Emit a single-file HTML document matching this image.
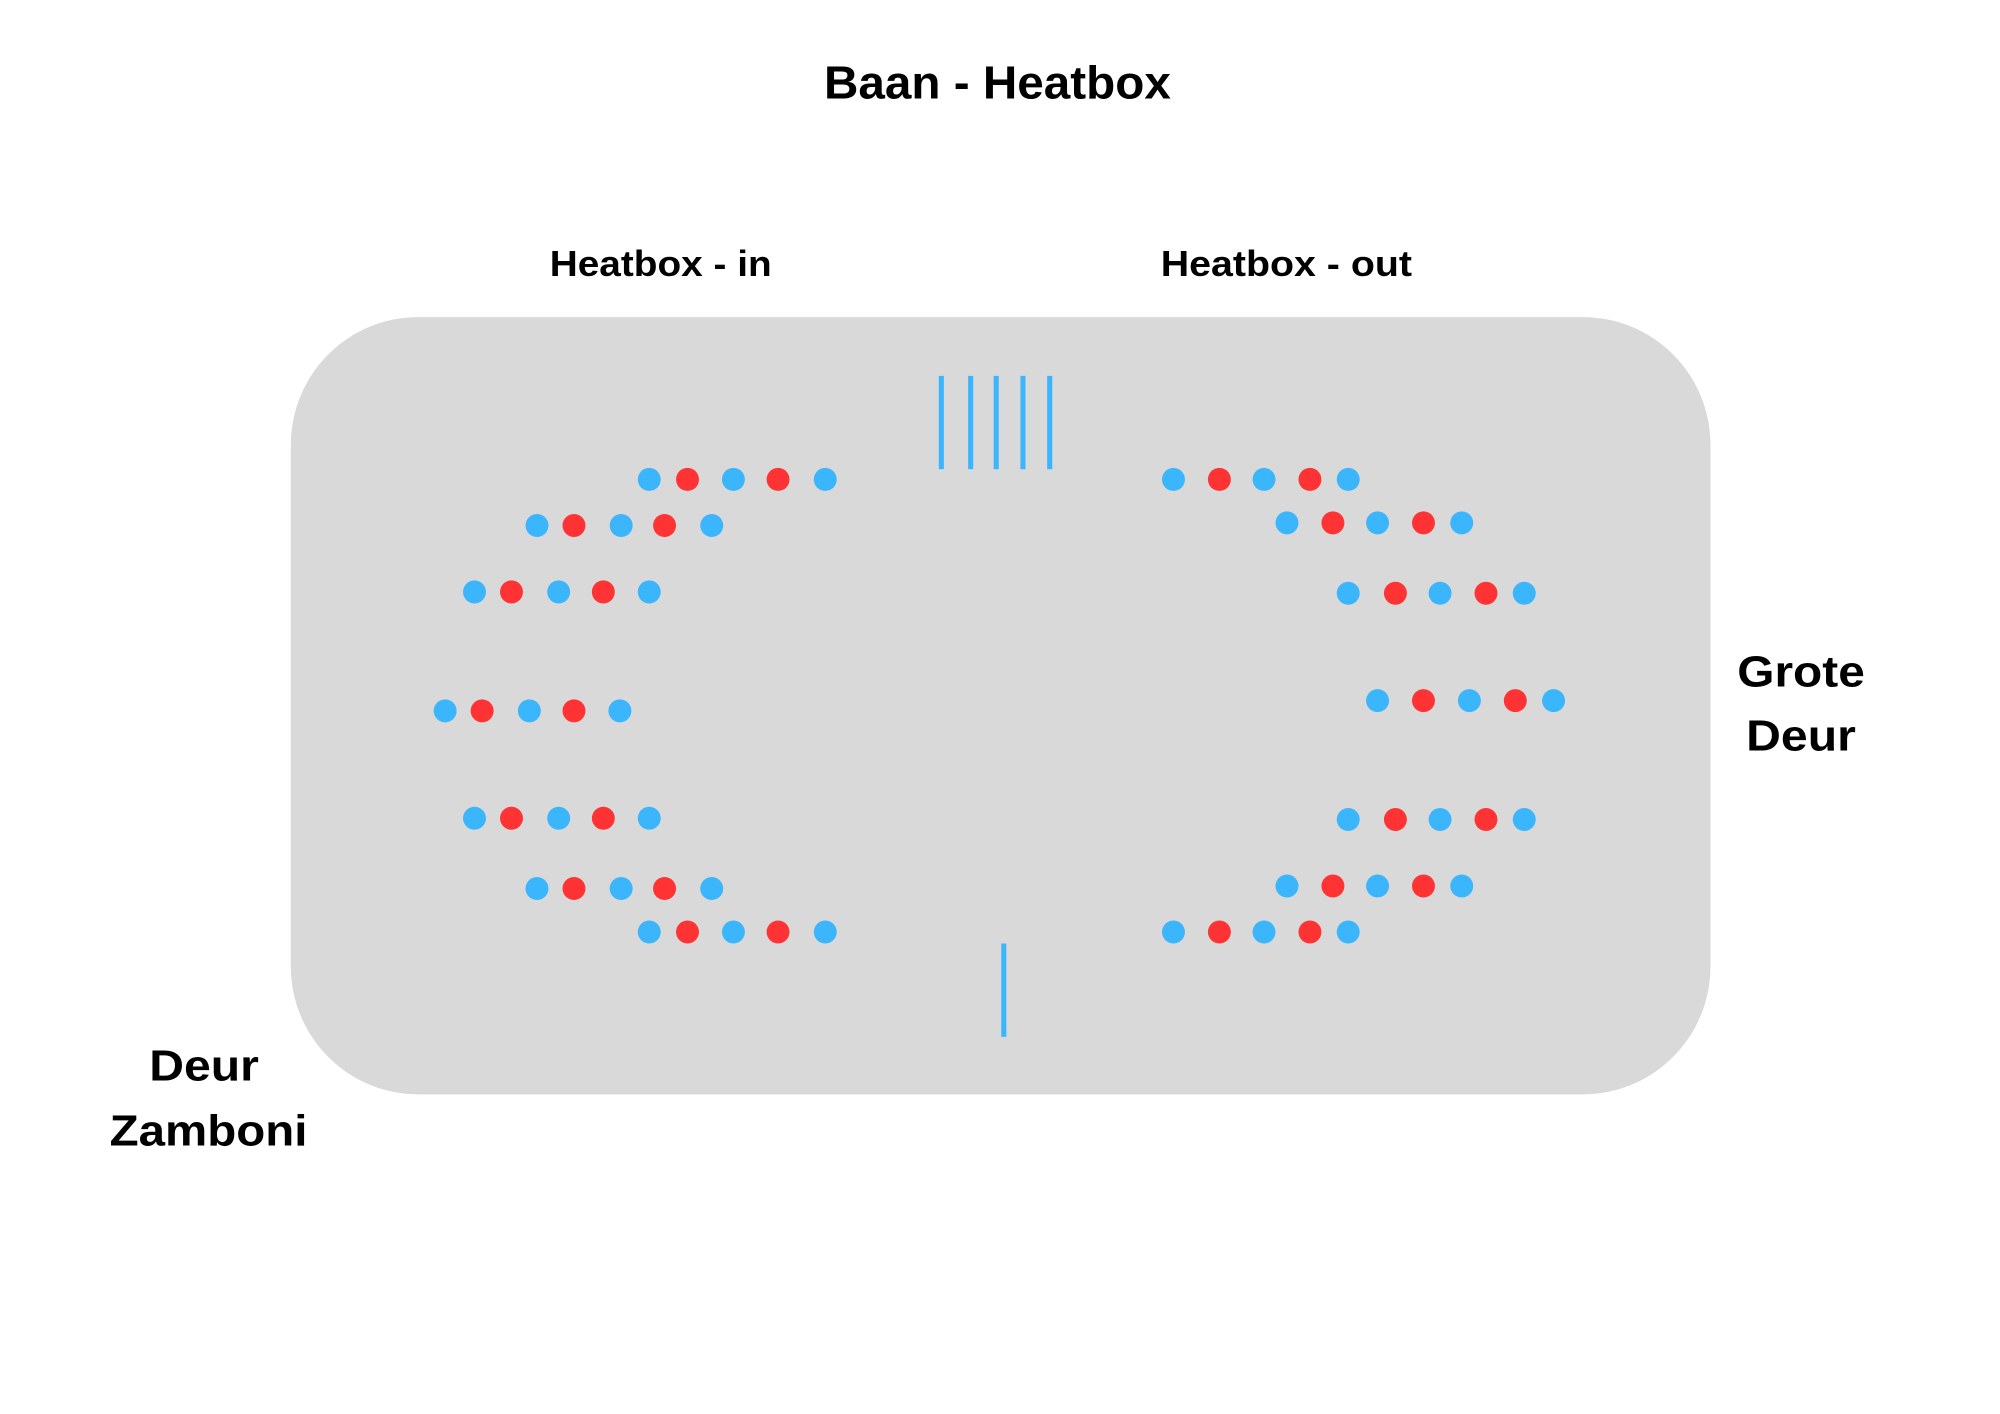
<!DOCTYPE html>
<html><head><meta charset="utf-8"><style>html,body{margin:0;padding:0;background:#fff}svg{display:block}</style></head>
<body>
<svg width="2000" height="1414" viewBox="0 0 1568 1106" preserveAspectRatio="none" xmlns="http://www.w3.org/2000/svg" font-family="Liberation Sans, sans-serif" font-weight="bold" fill="#000">
<rect x="228" y="248" width="1113" height="608" rx="100" ry="100" fill="#d9d9d9"/>
<g fill="#3bb6fd">
<rect x="736" y="294" width="4" height="73"/><rect x="759" y="294" width="4" height="73"/><rect x="779" y="294" width="4" height="73"/><rect x="800" y="294" width="4" height="73"/><rect x="821" y="294" width="4" height="73"/>
<rect x="785" y="738" width="4" height="73"/>
</g>
<text x="646" y="77" font-size="36" textLength="272" lengthAdjust="spacingAndGlyphs">Baan - Heatbox</text>
<text x="431" y="216" font-size="28" textLength="174" lengthAdjust="spacingAndGlyphs">Heatbox - in</text>
<text x="910" y="216" font-size="28" textLength="197" lengthAdjust="spacingAndGlyphs">Heatbox - out</text>
<text x="1362" y="537" font-size="34" textLength="100" lengthAdjust="spacingAndGlyphs">Grote</text>
<text x="1369" y="587" font-size="34" textLength="86" lengthAdjust="spacingAndGlyphs">Deur</text>
<text x="117" y="845" font-size="34" textLength="86" lengthAdjust="spacingAndGlyphs">Deur</text>
<text x="86" y="896" font-size="34" textLength="155" lengthAdjust="spacingAndGlyphs">Zamboni</text>
<g>
<circle cx="509" cy="375" r="9" fill="#3bb6fd"/><circle cx="539" cy="375" r="9" fill="#ff3333"/><circle cx="575" cy="375" r="9" fill="#3bb6fd"/><circle cx="610" cy="375" r="9" fill="#ff3333"/><circle cx="647" cy="375" r="9" fill="#3bb6fd"/>
<circle cx="421" cy="411" r="9" fill="#3bb6fd"/><circle cx="450" cy="411" r="9" fill="#ff3333"/><circle cx="487" cy="411" r="9" fill="#3bb6fd"/><circle cx="521" cy="411" r="9" fill="#ff3333"/><circle cx="558" cy="411" r="9" fill="#3bb6fd"/>
<circle cx="372" cy="463" r="9" fill="#3bb6fd"/><circle cx="401" cy="463" r="9" fill="#ff3333"/><circle cx="438" cy="463" r="9" fill="#3bb6fd"/><circle cx="473" cy="463" r="9" fill="#ff3333"/><circle cx="509" cy="463" r="9" fill="#3bb6fd"/>
<circle cx="349" cy="556" r="9" fill="#3bb6fd"/><circle cx="378" cy="556" r="9" fill="#ff3333"/><circle cx="415" cy="556" r="9" fill="#3bb6fd"/><circle cx="450" cy="556" r="9" fill="#ff3333"/><circle cx="486" cy="556" r="9" fill="#3bb6fd"/>
<circle cx="372" cy="640" r="9" fill="#3bb6fd"/><circle cx="401" cy="640" r="9" fill="#ff3333"/><circle cx="438" cy="640" r="9" fill="#3bb6fd"/><circle cx="473" cy="640" r="9" fill="#ff3333"/><circle cx="509" cy="640" r="9" fill="#3bb6fd"/>
<circle cx="421" cy="695" r="9" fill="#3bb6fd"/><circle cx="450" cy="695" r="9" fill="#ff3333"/><circle cx="487" cy="695" r="9" fill="#3bb6fd"/><circle cx="521" cy="695" r="9" fill="#ff3333"/><circle cx="558" cy="695" r="9" fill="#3bb6fd"/>
<circle cx="509" cy="729" r="9" fill="#3bb6fd"/><circle cx="539" cy="729" r="9" fill="#ff3333"/><circle cx="575" cy="729" r="9" fill="#3bb6fd"/><circle cx="610" cy="729" r="9" fill="#ff3333"/><circle cx="647" cy="729" r="9" fill="#3bb6fd"/>
<circle cx="920" cy="375" r="9" fill="#3bb6fd"/><circle cx="956" cy="375" r="9" fill="#ff3333"/><circle cx="991" cy="375" r="9" fill="#3bb6fd"/><circle cx="1027" cy="375" r="9" fill="#ff3333"/><circle cx="1057" cy="375" r="9" fill="#3bb6fd"/>
<circle cx="1009" cy="409" r="9" fill="#3bb6fd"/><circle cx="1045" cy="409" r="9" fill="#ff3333"/><circle cx="1080" cy="409" r="9" fill="#3bb6fd"/><circle cx="1116" cy="409" r="9" fill="#ff3333"/><circle cx="1146" cy="409" r="9" fill="#3bb6fd"/>
<circle cx="1057" cy="464" r="9" fill="#3bb6fd"/><circle cx="1094" cy="464" r="9" fill="#ff3333"/><circle cx="1129" cy="464" r="9" fill="#3bb6fd"/><circle cx="1165" cy="464" r="9" fill="#ff3333"/><circle cx="1195" cy="464" r="9" fill="#3bb6fd"/>
<circle cx="1080" cy="548" r="9" fill="#3bb6fd"/><circle cx="1116" cy="548" r="9" fill="#ff3333"/><circle cx="1152" cy="548" r="9" fill="#3bb6fd"/><circle cx="1188" cy="548" r="9" fill="#ff3333"/><circle cx="1218" cy="548" r="9" fill="#3bb6fd"/>
<circle cx="1057" cy="641" r="9" fill="#3bb6fd"/><circle cx="1094" cy="641" r="9" fill="#ff3333"/><circle cx="1129" cy="641" r="9" fill="#3bb6fd"/><circle cx="1165" cy="641" r="9" fill="#ff3333"/><circle cx="1195" cy="641" r="9" fill="#3bb6fd"/>
<circle cx="1009" cy="693" r="9" fill="#3bb6fd"/><circle cx="1045" cy="693" r="9" fill="#ff3333"/><circle cx="1080" cy="693" r="9" fill="#3bb6fd"/><circle cx="1116" cy="693" r="9" fill="#ff3333"/><circle cx="1146" cy="693" r="9" fill="#3bb6fd"/>
<circle cx="920" cy="729" r="9" fill="#3bb6fd"/><circle cx="956" cy="729" r="9" fill="#ff3333"/><circle cx="991" cy="729" r="9" fill="#3bb6fd"/><circle cx="1027" cy="729" r="9" fill="#ff3333"/><circle cx="1057" cy="729" r="9" fill="#3bb6fd"/>
</g>
</svg>
</body></html>
